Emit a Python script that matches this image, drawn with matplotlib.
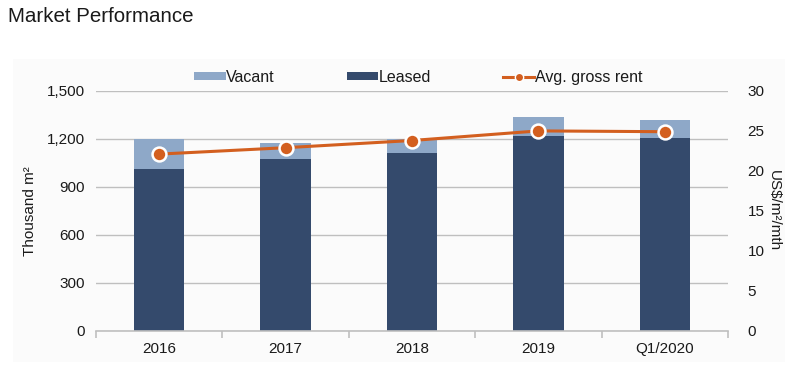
# Market performance: stacked bars (supply) and rent line on a second axis
import matplotlib.pyplot as plt
from matplotlib.patches import Rectangle

plt.rcParams['font.family'] = ['Liberation Sans', 'DejaVu Sans']

# Data
periods = ['2016', '2017', '2018', '2019', 'Q1/2020']
leased = [1015, 1075, 1115, 1220, 1207]
vacant = [185, 100, 85, 117, 110]
rent = [22.1, 22.9, 23.8, 25.0, 24.9]

grid_col = '#BFBFBF'
text_col = '#1A1A1A'

fig = plt.figure(figsize=(8, 3.71), dpi=100)

# faint panel behind the chart
fig.patches.append(Rectangle((0.016, 0.025), 0.965, 0.815, transform=fig.transFigure,
                             facecolor='#FBFBFB', edgecolor='none', zorder=-10))

fig.text(0.01, 0.955, 'Market Performance', fontsize=14.8, color=text_col, va='center')

ax = fig.add_axes([0.12, 0.108, 0.79, 0.647])
ax.set_facecolor('none')
x = range(len(periods))

b1 = ax.bar(x, vacant, bottom=leased, width=0.4, color='#8EA8C8', label='Vacant', zorder=2)
b2 = ax.bar(x, leased, width=0.4, color='#344A6C', label='Leased', zorder=2)

ax.set_xlim(-0.5, len(periods) - 0.5)
ax.set_ylim(0, 1500)
ax.set_yticks([0, 300, 600, 900, 1200, 1500])
ax.set_yticklabels(['0', '300', '600', '900', '1,200', '1,500'])
ax.yaxis.grid(True, color=grid_col, linewidth=1, zorder=0)
ax.set_axisbelow(True)
for s in ['top', 'right', 'left']:
    ax.spines[s].set_visible(False)
ax.spines['bottom'].set_color(grid_col)
ax.spines['bottom'].set_linewidth(1.2)
ax.tick_params(axis='y', length=0, labelsize=11, colors=text_col, pad=8)
ax.set_xticks(list(x))
ax.set_xticklabels(periods)
ax.tick_params(axis='x', length=0, labelsize=11, colors=text_col, pad=8)
ax.set_xticks([i - 0.5 for i in range(len(periods) + 1)], minor=True)
ax.tick_params(axis='x', which='minor', length=5, color=grid_col, width=1.2)
ax.set_ylabel('Thousand m²', fontsize=11, color=text_col, labelpad=7)

ax2 = ax.twinx()
ax2.set_ylim(0, 30)
ax2.set_yticks([0, 5, 10, 15, 20, 25, 30])
l1, = ax2.plot(x, rent, color='#D35F1F', linewidth=2.2, marker='o', markersize=10,
               markerfacecolor='#D35F1F', markeredgecolor='white', markeredgewidth=1.8,
               label='Avg. gross rent', zorder=3)
for s in ['top', 'right', 'left', 'bottom']:
    ax2.spines[s].set_visible(False)
ax2.tick_params(axis='y', length=0, labelsize=11, colors=text_col, pad=14)
ax2.set_ylabel('US$/m²/mth', fontsize=11, color=text_col, rotation=270, va='bottom', labelpad=2)

leg_line, = ax2.plot([], [], color='#D35F1F', linewidth=2.2, marker='o', markersize=6,
                     markerfacecolor='#D35F1F', markeredgecolor='white', markeredgewidth=1)
fig.legend([b1, b2, leg_line], ['Vacant', 'Leased', 'Avg. gross rent'],
           loc='center', bbox_to_anchor=(0.523, 0.792), ncol=3, frameon=False,
           fontsize=11.5, handlelength=1.95, handleheight=0.45, handletextpad=0.05,
           columnspacing=4.5, labelcolor=text_col)

fig.savefig('out.png', dpi=100)
